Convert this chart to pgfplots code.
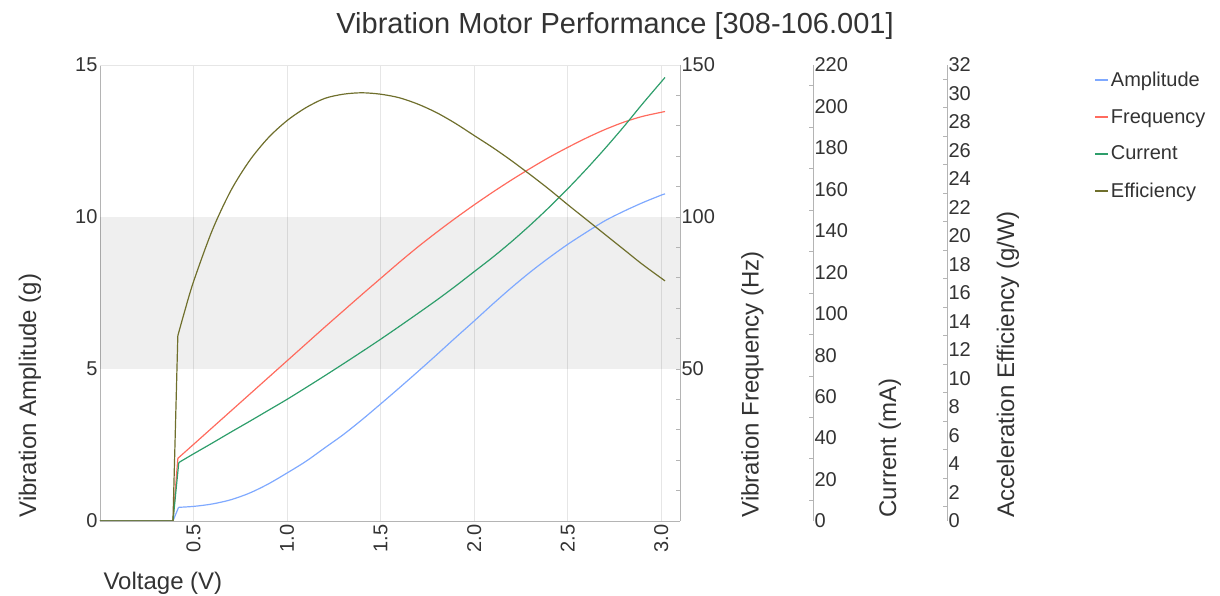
\documentclass[border=0pt]{standalone}
\usepackage{fontspec}
\setmainfont{Liberation Sans}
\usepackage{pgfplots}
\usepackage{pgfplotstable}
\pgfplotsset{compat=1.18}
\definecolor{ampc}{HTML}{7FA9FF}
\definecolor{freqc}{HTML}{FF6B5E}
\definecolor{curc}{HTML}{2E9E6B}
\definecolor{effc}{HTML}{6F6F2C}
\definecolor{txt}{HTML}{333333}
\definecolor{spine}{HTML}{B4B4B4}
\definecolor{gridc}{HTML}{E6E6E6}

\pgfplotstableread{
x y
0 0
0.39 0
0.42 0.45
0.5 0.48
0.6 0.56
0.7 0.70
0.8 0.92
0.9 1.22
1.0 1.58
1.1 1.96
1.2 2.40
1.3 2.84
1.4 3.33
1.5 3.85
1.6 4.38
1.7 4.92
1.8 5.47
1.9 6.03
2.0 6.58
2.1 7.14
2.2 7.68
2.3 8.19
2.4 8.66
2.5 9.10
2.6 9.50
2.7 9.88
2.8 10.19
2.9 10.47
3.0 10.72
3.02 10.76
}\amplitude

\pgfplotstableread{
x y
0 0
0.39 0
0.416 20.6
0.5 25.2
0.6 30.7
0.7 36.2
0.8 41.7
0.9 47.2
1.0 52.7
1.1 58.2
1.2 63.7
1.3 69.1
1.4 74.5
1.5 79.8
1.6 85.1
1.7 90.2
1.8 95.0
1.9 99.6
2.0 104.0
2.1 108.2
2.2 112.2
2.3 116.0
2.4 119.6
2.5 122.9
2.6 126.0
2.7 128.8
2.8 131.2
2.9 133.1
3.02 134.7
}\frequency

\pgfplotstableread{
x y
0 0
0.39 0
0.421 28.2
0.5 32.4
0.6 37.6
0.7 42.9
0.8 48.1
0.9 53.4
1.0 58.7
1.1 64.3
1.2 70.0
1.3 75.8
1.4 81.7
1.5 87.7
1.6 93.9
1.7 100.2
1.8 106.6
1.9 113.3
2.0 120.3
2.1 127.3
2.2 134.8
2.3 142.8
2.4 151.3
2.5 160.3
2.6 169.8
2.7 179.8
2.8 190.3
2.9 201.3
3.02 214.0
}\current

\pgfplotstableread{
x y
0 0
0.39 0
0.416 13.0
0.45 14.6
0.5 16.8
0.6 20.4
0.7 23.2
0.8 25.3
0.9 26.9
1.0 28.1
1.1 29.0
1.2 29.65
1.3 29.95
1.4 30.05
1.5 29.95
1.6 29.7
1.7 29.25
1.8 28.65
1.9 27.9
2.0 27.05
2.1 26.2
2.2 25.28
2.3 24.3
2.4 23.28
2.5 22.2
2.6 21.15
2.7 20.1
2.8 19.05
2.9 18.0
3.02 16.85
}\efficiency

\tikzset{
  tickfont/.style={font=\fontsize{20}{24}\selectfont, text=txt},
  labfont/.style={font=\fontsize{24}{28}\selectfont, text=txt},
}
\pgfplotsset{
  extra/.style={
    scale only axis, height=456pt, xmin=0, xmax=1,
    axis x line=none, axis y line*=right,
    axis line style={spine, line width=0.8pt},
    major tick length=0pt, minor tick length=4pt, tick align=inside,
    tick style={spine, line width=0.8pt},
    yticklabel style={tickfont, anchor=west, xshift=-2pt},
    /pgf/number format/assume math mode=true,
  },
  head/.style={forget plot, skip coords between index={#1}{1000}},
  tail/.style={forget plot, smooth, tension=0.5, skip coords between index={0}{#1}},
}

\begin{document}
\begin{tikzpicture}
\useasboundingbox (-100pt,-75pt) rectangle (1120pt,521pt);

% main axis with all curves (extra quantities scaled onto the left axis)
\begin{axis}[
  scale only axis, width=580pt, height=456pt,
  xmin=0, xmax=3.1, ymin=0, ymax=15,
  axis x line*=bottom, axis y line*=left,
  axis line style={spine, line width=0.8pt},
  xtick={0.5,1.0,1.5,2.0,2.5,3.0},
  xticklabels={0.5,1.0,1.5,2.0,2.5,3.0},
  ytick={0,5,10,15},
  major tick length=0pt,
  xmajorgrids, grid style={gridc, line width=0.8pt},
  /pgf/number format/assume math mode=true,
  xticklabel style={tickfont, rotate=90, anchor=east},
  yticklabel style={tickfont, xshift=1pt},
  xlabel={Voltage (V)},
  ylabel={Vibration Amplitude (g)},
  every axis x label/.style={at={(axis description cs:0,0)}, anchor=west, yshift=-62pt, labfont},
  every axis y label/.style={at={(axis description cs:-0.1207,0)}, anchor=west, rotate=90, labfont},
  title={Vibration Motor Performance [308-106.001]},
  title style={at={(axis description cs:0.888,1)}, anchor=center, yshift=33pt, font=\fontsize{29}{34}\selectfont, text=txt},
  legend style={at={(axis description cs:1.714,0.99)}, anchor=north west, draw=none, fill=none,
    font=\fontsize{20}{24}\selectfont, text=txt, row sep=17.5pt, inner sep=0pt},
  legend cell align=left,
  legend image code/.code={\draw[#1, line width=1.6pt] (0pt,0pt) -- (13pt,0pt);},
  every axis plot/.append style={line width=1.2pt},
]
\fill[black, opacity=0.063] (axis cs:0,5) rectangle (axis cs:3.1,10);
\draw[gridc, line width=0.8pt] (rel axis cs:0,1) -- (rel axis cs:1,1);
\addplot[ampc, head=3] table[x=x, y=y] {\amplitude};
\addplot[freqc, head=3, y filter/.expression={y/10}] table[x=x, y=y] {\frequency};
\addplot[curc, head=3, y filter/.expression={y*15/220}] table[x=x, y=y] {\current};
\addplot[effc, head=3, y filter/.expression={y*15/32}] table[x=x, y=y] {\efficiency};
\addplot[ampc, tail=2] table[x=x, y=y] {\amplitude};
\addplot[freqc, tail=2, y filter/.expression={y/10}] table[x=x, y=y] {\frequency};
\addplot[curc, tail=2, y filter/.expression={y*15/220}] table[x=x, y=y] {\current};
\addplot[effc, tail=2, y filter/.expression={y*15/32}] table[x=x, y=y] {\efficiency};
\addlegendimage{ampc}
\addlegendentry{Amplitude}
\addlegendimage{freqc}
\addlegendentry{Frequency}
\addlegendimage{curc}
\addlegendentry{Current}
\addlegendimage{effc}
\addlegendentry{Efficiency}
\end{axis}

% frequency axis (right edge of the plot)
\begin{axis}[extra, width=580pt, at={(0pt,0pt)},
  ymin=0, ymax=150, ytick={50,100,150}, minor ytick={10,20,...,140},
  ylabel={Vibration Frequency (Hz)},
  every axis y label/.style={at={(axis description cs:1.125,0)}, anchor=west, rotate=90, labfont},
]
\end{axis}

% current axis
\begin{axis}[extra, width=20pt, at={(693pt,0pt)},
  ymin=0, ymax=220, ytick={0,20,...,220}, minor ytick={10,30,...,210},
  ylabel={Current (mA)},
  every axis y label/.style={at={(axis description cs:4.85,0)}, anchor=west, rotate=90, labfont},
]
\end{axis}

% efficiency axis
\begin{axis}[extra, width=20pt, at={(827pt,0pt)},
  ymin=0, ymax=32, ytick={0,2,...,32}, minor ytick={1,3,...,31},
  ylabel={Acceleration Efficiency (g/W)},
  every axis y label/.style={at={(axis description cs:4.05,0)}, anchor=west, rotate=90, labfont},
]
\end{axis}
\end{tikzpicture}
\end{document}
